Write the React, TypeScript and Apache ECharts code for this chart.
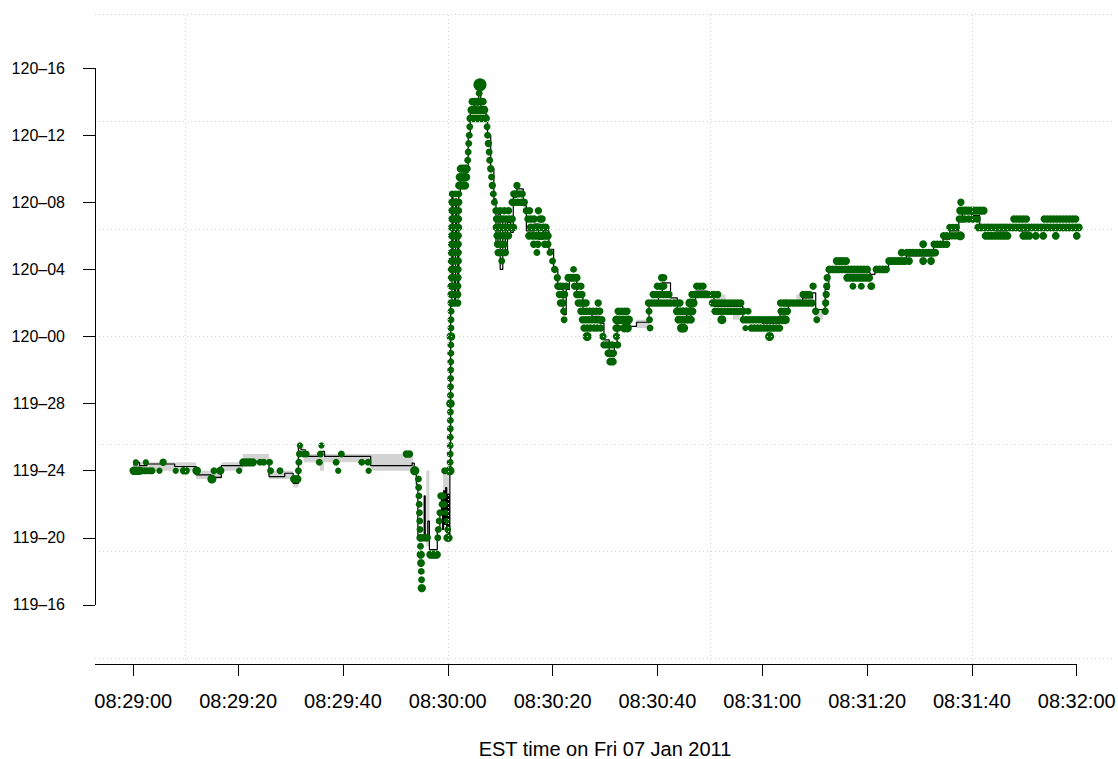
import { useEffect, useRef } from "react";
import * as echarts from "echarts";

// Prices are stored in 32nds above 119-00 (24 = 119-24, 32 = 120-00, 47 = 120-15).
// Times are seconds after 08:29:00 EST.

const xTickSeconds = [0, 20, 40, 60, 80, 100, 120, 140, 160, 180];
const yTickPrices = [16, 20, 24, 28, 32, 36, 40, 44, 48];
const gridSeconds = [10, 60, 110, 160];
const gridPrices = [12.8, 19.2, 25.6, 32, 38.4, 44.8, 51.2];

const X_MIN = -7.3;
const X_MAX = 187.3;
const Y_MIN = 12.48;
const Y_MAX = 51.34;

// bid/ask range while a quote stands: [from, to, low, high]
const quoteBands = [
  [0, 12.0, 24.0, 24.5],
  [12.0, 16.8, 23.5, 24.0],
  [16.8, 20.9, 24.0, 24.5],
  [20.9, 25.9, 24.5, 25.0],
  [25.9, 30.5, 23.5, 24.0],
  [30.5, 31.5, 23.0, 23.5],
  [31.5, 32.5, 25.0, 25.5],
  [32.5, 35.6, 24.5, 25.0],
  [35.6, 36.4, 24.0, 25.0],
  [36.4, 45.3, 24.5, 25.0],
  [45.3, 53.4, 24.0, 25.0],
  [55.9, 56.5, 19.5, 24.0],
  [59.1, 60.2, 22.5, 24.0],
  [96.0, 98.4, 32.5, 33.0],
  [111.0, 113.0, 34.0, 34.5],
  [114.4, 115.7, 33.0, 33.5],
  [126.5, 128.5, 34.0, 34.5],
  [130.0, 131.6, 33.0, 33.5],
];

// weighted mid price, drawn as a step line: [time, price]
const midLine = [
  [0, 24.35], [0.8, 24.5], [1.2, 24.3], [2.6, 24.4], [7.9, 24.25], [12.0, 23.75], [14.8, 23.6],
  [16.8, 24.3], [20.9, 24.55], [25.9, 23.65], [28.9, 23.85], [30.5, 23.25], [31.5, 25.4],
  [32.0, 25.25], [32.8, 24.85], [36.0, 25.15], [36.5, 24.85], [45.3, 24.3], [53.2, 24.45],
  [53.6, 23.8], [54.0, 23.2], [54.3, 20.0], [55.5, 22.5], [55.7, 20.0], [56.2, 21.0], [56.5, 19.3],
  [58.0, 20.5], [58.5, 21.5], [58.8, 22.5], [59.0, 20.5], [59.2, 22.8], [59.4, 20.8], [59.6, 23.0],
  [59.8, 20.3], [60.0, 22.6], [60.2, 20.2], [60.4, 24.0], [60.55, 33.8], [60.8, 40.3], [61.0, 35.5],
  [61.3, 34.2], [61.5, 40.2], [61.7, 37.5], [61.9, 34.3], [62.1, 40.4], [62.4, 41.3], [63.4, 41.8],
  [63.9, 44.0], [64.3, 45.3], [65.0, 45.8], [65.9, 46.4], [66.15, 47.0], [66.3, 45.7], [67.3, 45.2],
  [67.6, 44.0], [68.2, 42.0], [68.8, 40.2], [69.2, 37.6], [69.6, 39.3], [70.0, 36.0], [70.5, 39.0],
  [71.0, 37.0], [71.4, 38.8], [72.0, 38.2], [72.5, 40.3], [73.2, 40.8], [74.4, 39.8], [75.0, 38.3],
  [76.6, 38.7], [77.3, 37.8], [78.2, 38.3], [79.3, 37.2], [80.2, 36.0], [81.0, 34.8], [82.0, 33.3],
  [82.6, 34.8], [83.2, 35.6], [84.6, 34.6], [85.8, 33.4], [87.5, 33.2], [89.0, 32.8], [89.8, 31.8],
  [90.8, 30.8], [91.8, 31.6], [92.3, 33.0], [94.7, 32.6], [96.0, 32.85], [98.4, 33.9], [100.2, 34.6],
  [100.9, 35.2], [102.5, 34.3], [103.8, 33.4], [105.6, 33.2], [106.4, 34.2], [107.3, 34.7],
  [109.5, 34.5], [110.8, 33.8], [116.3, 33.0], [120.0, 32.8], [123.4, 33.6], [125.0, 34.0],
  [127.7, 34.3], [129.6, 34.6], [130.2, 33.6], [132.0, 34.8], [132.7, 36.0], [136.1, 35.8],
  [140.6, 35.7], [141.5, 36.0], [144.1, 36.4], [147.5, 36.8], [152.7, 37.4], [154.5, 37.8],
  [155.8, 38.3], [157.5, 39.0], [158.2, 39.6], [160.0, 39.2], [161.5, 38.6], [164.5, 38.3],
  [166.8, 38.55], [169.0, 38.3], [171.0, 38.6], [173.0, 38.35], [175.0, 38.5], [180.0, 38.45],
];

// trades, grouped in runs at one price: [price, lots, times]
const tradesOpen = [
  [24, 7, [0.1, 0.6, 1.1]], [24, 3, [1.6, 2.1, 2.6, 3.2, 3.6]], [24.5, 2, [0.5, 2.4]],
  [24, 2, [5.0, 8.1]], [24.5, 4, [5.7]], [24, 4, [9.6, 10.1]], [24, 7, [12.1]], [23.5, 8, [15.0]],
  [24, 3, [15.4]], [24, 6, [16.6]], [24, 2, [20.2]], [24.5, 6, [21.0, 21.6, 22.2, 22.8]],
  [24.5, 3, [24.2, 24.9, 26.0]], [24, 3, [26.2, 28.0]], [23.5, 6, [30.7, 31.3]], [24, 3, [31.5]],
  [24.5, 3, [31.6]], [25, 3, [31.7, 32.5, 33.0]], [25.5, 2, [31.8, 35.9]],
  [24.5, 3, [35.5, 38.7, 43.6, 44.8]], [25, 3, [35.7, 39.7]], [24, 2, [39.1, 44.9]],
  [25, 4, [52.1, 52.7]], [24, 9, [53.7]],
];

const tradesDrop = [
  [23.5, 3, [54.4]], [23, 3, [54.45]], [22.5, 3, [54.5]], [22, 3, [54.55]], [21.5, 3, [54.6]],
  [21, 3, [54.65]], [20.5, 3, [54.7]], [20, 5, [54.75]], [19.5, 3, [54.8]], [19, 6, [54.85]],
  [18.5, 5, [54.9]], [18, 3, [54.95]], [17.5, 3, [55.0]], [17, 6, [55.05]],
  [20, 4, [55.2, 55.7, 56.1]], [19, 6, [56.7, 57.1, 57.5, 57.9]], [20, 3, [58.1]], [20.5, 3, [58.2]],
  [21, 3, [58.35]], [21.5, 3, [58.5]], [22.5, 4, [58.7, 59.1]], [22, 3, [58.9, 59.3]], [24, 3, [59.4]],
  [21.5, 2, [59.6]], [21, 2, [59.8]], [20.5, 3, [60.0]], [20, 5, [59.9, 60.2]],
];

const tradesSpike = [
  [24, 9, [60.4]], [24.5, 3, [60.45]], [25, 3, [60.46]], [25.5, 3, [60.47]], [26, 3, [60.48]],
  [26.5, 3, [60.49]], [27, 3, [60.5]], [27.5, 3, [60.51]], [28, 7, [60.52]], [28.5, 3, [60.53]],
  [29, 3, [60.54]], [29.5, 3, [60.55]], [30, 3, [60.56]], [30.5, 3, [60.57]], [31, 3, [60.58]],
  [31.5, 3, [60.59]], [32, 7, [60.6]], [32.5, 3, [60.61]], [33, 3, [60.62]], [33.5, 3, [60.63]],
  [34, 4, [60.65, 61.3, 61.9]], [34.5, 4, [60.65, 61.3, 61.9]], [35, 4, [60.65, 61.0, 61.3, 61.9]],
  [35.5, 4, [60.7, 61.3, 61.95]], [36, 4, [60.7, 61.05, 61.35, 61.95]], [36.5, 4, [60.7, 61.35, 62.0]],
  [37, 4, [60.7, 61.1, 61.35, 62.0]], [37.5, 4, [60.75, 61.4, 62.0]],
  [38, 4, [60.75, 61.1, 61.4, 61.7, 62.0]], [38.5, 4, [60.75, 61.4, 62.05]],
  [39, 4, [60.8, 61.15, 61.45, 61.75, 62.05]], [39.5, 4, [60.8, 61.45, 62.05]],
  [40, 4, [60.8, 61.2, 61.5, 62.1]], [40.5, 3, [60.85, 61.5, 62.1]],
  [41, 6, [62.2, 62.6, 63.0, 63.3]], [41.5, 6, [62.3, 62.7, 63.1, 63.5]], [42, 6, [62.5, 62.9, 63.3, 63.6]],
  [42.5, 3, [63.8]], [43, 3, [63.9]], [43.5, 3, [64.0]], [44, 3, [64.1]], [44.5, 3, [64.2]],
  [45, 5, [64.3, 64.8, 65.3, 65.8, 66.3, 66.8, 67.3]], [45.5, 5, [64.5, 65.0, 65.5, 66.0, 66.5, 67.0]],
  [46, 5, [64.7, 65.2, 65.7, 66.2, 66.7]], [46.5, 3, [66.0]], [47, 25, [66.15]],
  [44.5, 3, [67.5]], [44, 3, [67.6]], [43.5, 4, [67.75]], [43, 3, [67.9]], [42.5, 3, [68.0]],
  [42, 4, [68.2]], [41.5, 3, [68.35]], [41, 4, [68.5]], [40.5, 3, [68.7]], [40, 3, [68.9]],
  [39.5, 4, [69.2, 70.0, 70.8, 71.6]], [39, 4, [69.3, 70.1, 70.6, 71.2, 71.8, 72.3]],
  [38.5, 5, [69.3, 69.8, 70.4, 71.0, 71.5, 72.0, 72.5]], [38, 4, [69.4, 70.0, 70.6, 71.1, 71.6]],
  [37.5, 4, [69.5, 70.2, 70.8]], [37, 4, [69.6, 70.3, 71.0]], [36.5, 3, [70.3]],
  [40, 4, [72.3, 72.8, 73.4, 74.0, 74.6]], [40.5, 4, [72.6, 73.0, 73.6, 74.2]], [41, 4, [73.2]],
  [39.5, 4, [75.0, 75.6, 77.3]], [39, 4, [75.3, 75.9, 76.5, 77.6, 78.0]],
  [38.5, 5, [75.8, 76.4, 77.0, 77.6, 78.2, 78.7]], [38, 5, [75.5, 76.2, 76.8, 77.4, 78.0, 78.6, 79.1]],
  [37.5, 4, [76.4, 77.2, 78.5, 79.1]], [37, 3, [77.0, 79.5]],
  [36.5, 3, [80.0]], [36, 4, [80.4]], [35.5, 4, [80.9]],
  [35, 4, [81.0, 81.5, 82.0, 82.6]], [34.5, 4, [81.3, 81.8, 82.3]], [34, 4, [81.5, 82.0]],
  [33.5, 3, [82.1]], [33, 3, [82.2]], [35.5, 5, [83.0, 83.5, 84.0, 84.6]], [36, 3, [84.0]],
  [35, 4, [84.2, 84.8, 85.4]],
];

const tradesRange = [
  [34.5, 4, [84.6, 85.1, 85.6]], [34, 4, [84.9, 85.4, 85.9, 86.4, 88.7]],
  [33.5, 4, [85.4, 86.0, 86.5, 87.1, 87.7, 88.3, 89.0]], [33, 4, [85.7, 86.3, 86.9, 87.5, 88.1, 88.7, 89.4]],
  [32.5, 4, [86.0, 86.6, 87.2, 87.9, 88.5, 89.2]], [32, 8, [86.6]], [32, 4, [89.6, 92.2]],
  [31.5, 4, [89.8, 90.3, 90.8, 91.4, 92.4]], [31, 4, [90.6, 91.1, 91.6]], [30.5, 5, [91.0, 91.5]],
  [32.5, 4, [92.1, 92.5]], [33, 7, [92.2, 92.8, 93.4, 94.0, 94.5]], [33.5, 4, [92.5, 93.1, 93.7, 94.2]],
  [32.5, 7, [93.7, 94.3]], [33.5, 3, [98.4]], [33, 3, [98.5]], [32.5, 3, [98.6]],
  [34, 4, [98.3, 98.9, 99.5, 100.1, 100.7, 101.3, 101.9, 102.5, 103.2, 103.8, 104.3]],
  [34.5, 4, [99.2, 99.8, 100.4, 101.0, 101.6, 102.2]], [35, 4, [100.0, 100.6, 101.2]], [35.5, 4, [100.8, 101.2]],
  [33.5, 5, [103.7, 104.3, 104.9, 105.5, 106.1, 106.7]], [33, 5, [104.0, 104.6, 105.2, 105.8, 106.4]],
  [32.5, 8, [104.6, 105.0]], [34, 8, [106.2, 106.8]],
  [34.5, 4, [106.6, 107.2, 107.8, 108.4, 109.0, 109.6, 110.2, 110.8, 111.5]], [35, 4, [107.5, 108.1, 108.7]],
  [34, 4, [110.5, 111.1, 111.7, 112.3, 112.9, 113.5, 114.1, 114.7, 115.3, 115.9]],
  [33.5, 4, [111.0, 111.6, 112.2, 112.8, 113.4, 114.0, 114.6, 115.2, 115.8, 116.4]], [33, 8, [112.3]],
  [33, 4, [116.4, 117.0, 117.6, 118.2, 118.8, 119.4, 120.0, 120.6, 121.2, 121.8, 122.4, 123.0, 123.6]],
  [32.5, 4, [117.9, 118.5, 119.1, 119.7, 120.3, 120.9, 121.5, 122.1, 122.7, 123.3]],
  [33.5, 3, [117.3]], [32.5, 2, [116.8]], [32, 8, [121.4]], [33.5, 4, [123.6, 124.2, 124.8]], [34, 3, [124.5]],
];

const tradesClimb = [
  [33, 8, [123.9, 124.4]], [34, 4, [123.5, 124.1, 124.7, 125.3, 125.9, 126.5, 127.1, 127.7, 128.3, 128.9, 129.5]],
  [34.5, 4, [127.8, 128.4, 129.0]], [35, 4, [129.7]], [33.5, 4, [130.2]], [33, 3, [130.4]],
  [33.5, 4, [132.0]], [34, 4, [132.1]], [34.5, 4, [132.2]], [35, 4, [132.3]], [35.5, 4, [132.4]],
  [36, 5, [132.8, 133.4, 134.0, 134.6, 135.2, 135.8, 136.4, 137.0, 137.6, 138.2, 138.8, 139.4, 140.0]],
  [36.5, 5, [134.2, 134.8, 135.4, 136.0]],
  [35.5, 5, [136.2, 136.8, 137.4, 138.0, 138.6, 139.2, 139.8, 140.4]], [35, 3, [137.3, 138.9]], [35, 5, [140.8]],
  [36, 5, [141.8, 142.4, 143.0, 143.6]], [36.5, 5, [144.2, 144.8, 145.4, 146.0, 146.6, 147.2]],
  [37, 5, [146.6, 147.6, 148.2, 148.8, 149.4, 150.0, 150.6, 151.2, 151.8, 152.4, 153.0]],
  [36.5, 5, [148.0, 150.7, 152.2]], [37.5, 5, [150.7]],
  [37.5, 4, [152.8, 153.4, 154.0, 154.6, 155.2]], [38, 4, [154.6, 155.2]],
  [38.5, 4, [155.8, 156.4, 157.0]], [38, 4, [156.2, 156.8, 157.4]], [38, 8, [157.8]],
  [39, 4, [157.6, 158.1]], [39.5, 6, [157.8, 158.3, 158.8, 159.3, 159.9, 160.4, 161.0, 161.6, 162.2]],
  [40, 4, [157.9]], [39, 4, [158.6, 159.4, 160.2, 161.0]],
];

const tradesPlateau = [
  [38.5, 5, [161.2, 161.8, 162.4, 163.0, 163.6, 164.2, 164.8, 165.4, 166.0, 166.6, 167.2, 167.8, 168.4,
    169.0, 169.6, 170.2, 170.8, 171.4, 172.0, 172.6, 173.2, 173.8, 174.4, 175.0, 175.6, 176.2, 176.8,
    177.4, 178.0, 178.6, 179.2, 179.8, 180.4]],
  [39, 4, [168.0, 168.6, 169.2, 169.8, 170.4, 173.8, 174.4, 175.0, 175.6, 176.2, 176.8, 177.4, 178.0,
    178.6, 179.2, 179.8]],
  [38, 5, [162.6, 163.2, 163.8, 164.4, 165.0, 165.6, 166.2, 166.8, 169.8, 170.4, 171.0, 172.2, 173.6,
    176.0, 180.0]],
];

const FONT = "'Liberation Sans', Arial, Helvetica, sans-serif";

const pad2 = (n: number) => String(n).padStart(2, "0");

const formatClock = (s: number) => {
  const total = 8 * 3600 + 29 * 60 + Math.round(s);
  const h = Math.floor(total / 3600);
  const m = Math.floor((total % 3600) / 60);
  const sec = total % 60;
  return `${pad2(h)}:${pad2(m)}:${pad2(sec)}`;
};

const formatPrice = (v: number) => {
  const handle = 119 + Math.floor(v / 32);
  const ticks = Math.round(v - 32 * Math.floor(v / 32));
  return `${handle}\u2013${pad2(ticks)}`;
};

const flattenRuns = (runs: any[]) =>
  runs.flatMap(([price, lots, times]) => times.map((t: number) => [t, price, lots]));

export default function App() {
  const ref = useRef<HTMLDivElement>(null);

  useEffect(() => {
    if (!ref.current) return;
    const chart = echarts.init(ref.current, undefined, { renderer: "svg" });

    const trades = [
      ...flattenRuns(tradesOpen),
      ...flattenRuns(tradesDrop),
      ...flattenRuns(tradesSpike),
      ...flattenRuns(tradesRange),
      ...flattenRuns(tradesClimb),
      ...flattenRuns(tradesPlateau),
    ];

    const dotted = { color: "#d3d3d3", width: 1, type: [1, 3] as any };
    const solid = { color: "#000000", width: 1, type: "solid" as any };

    const frameLines: any[] = [
      ...gridPrices.map((p) => ({ yAxis: p, lineStyle: dotted })),
      ...gridSeconds.map((s) => ({ xAxis: s, lineStyle: dotted })),
      [
        { coord: [X_MIN, yTickPrices[0]], lineStyle: solid },
        { coord: [X_MIN, yTickPrices[yTickPrices.length - 1]] },
      ],
      [
        { coord: [X_MIN, Y_MIN], lineStyle: solid },
        { coord: [xTickSeconds[xTickSeconds.length - 1], Y_MIN] },
      ],
    ];

    chart.setOption({
      animation: false,
      backgroundColor: "#ffffff",
      textStyle: { fontFamily: FONT },
      grid: {
        left: 95,
        right: 3,
        top: 12,
        bottom: 95,
        containLabel: false,
        outerBoundsMode: "none",
      },
      xAxis: {
        type: "value",
        min: X_MIN,
        max: X_MAX,
        axisLine: { show: false, onZero: false },
        axisTick: {
          show: true,
          customValues: xTickSeconds,
          length: 12,
          lineStyle: { color: "#000000", width: 1 },
        },
        axisLabel: {
          customValues: xTickSeconds,
          formatter: (v: number) => formatClock(v),
          color: "#000000",
          fontSize: 20,
          fontFamily: FONT,
          margin: 27,
        },
        splitLine: { show: false },
        name: "EST time on Fri 07 Jan 2011",
        nameLocation: "middle",
        nameGap: 75,
        nameTextStyle: { color: "#000000", fontSize: 20, fontFamily: FONT },
      },
      yAxis: {
        type: "value",
        min: Y_MIN,
        max: Y_MAX,
        axisLine: { show: false, onZero: false },
        axisTick: {
          show: true,
          customValues: yTickPrices,
          length: 12,
          lineStyle: { color: "#000000", width: 1 },
        },
        axisLabel: {
          customValues: yTickPrices,
          formatter: (v: number) => formatPrice(v),
          color: "#000000",
          fontSize: 16,
          fontFamily: FONT,
          margin: 30,
        },
        splitLine: { show: false },
      },
      series: [
        {
          name: "frame",
          type: "line",
          data: [],
          silent: true,
          clip: false,
          z: 0,
          markLine: {
            silent: true,
            symbol: ["none", "none"],
            label: { show: false },
            animation: false,
            data: frameLines,
          },
        },
        {
          name: "spread",
          type: "custom",
          silent: true,
          z: 1,
          encode: { x: [0, 1], y: [2, 3] },
          data: quoteBands,
          renderItem: (_params: any, api: any) => {
            const topLeft = api.coord([api.value(0), api.value(3)]);
            const bottomRight = api.coord([api.value(1), api.value(2)]);
            return {
              type: "rect",
              shape: {
                x: topLeft[0],
                y: topLeft[1],
                width: bottomRight[0] - topLeft[0],
                height: bottomRight[1] - topLeft[1],
              },
              style: { fill: "#d3d3d3" },
            };
          },
        },
        {
          name: "mid",
          type: "line",
          step: "end",
          data: midLine,
          symbol: "none",
          silent: true,
          z: 2,
          lineStyle: { color: "#000000", width: 1.2 },
        },
        {
          name: "trades",
          type: "scatter",
          data: trades,
          silent: true,
          z: 3,
          symbol: "circle",
          symbolSize: (v: number[]) => 3.6 + 1.9 * Math.sqrt(v[2]),
          itemStyle: { color: "#006400", opacity: 1 },
        },
      ],
    });

    return () => chart.dispose();
  }, []);

  return (
    <div
      ref={ref}
      style={{ position: "fixed", left: 0, top: 0, width: 1118, height: 759, background: "#ffffff" }}
    />
  );
}
